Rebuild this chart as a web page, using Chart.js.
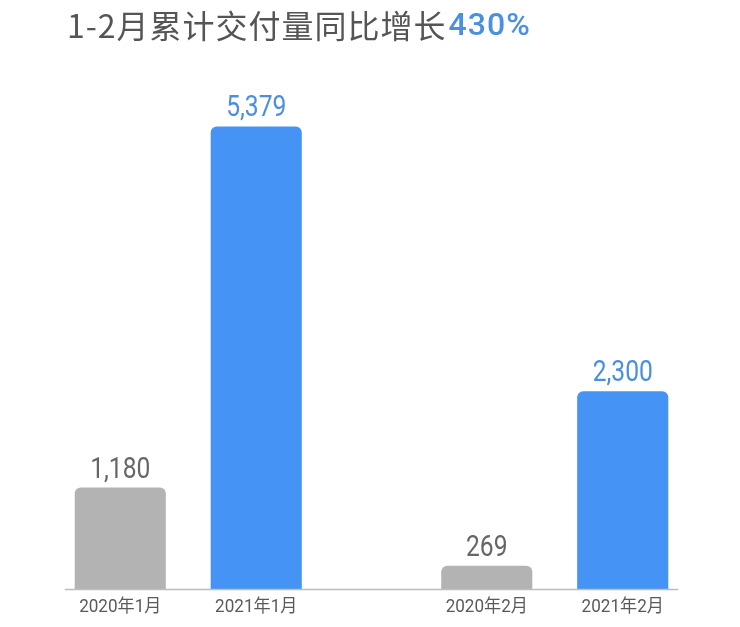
<!DOCTYPE html>
<html>
<head>
<meta charset="utf-8">
<script src="https://cdn.jsdelivr.net/npm/chart.js@4.4.0/dist/chart.umd.min.js"></script>
<style>
  html, body { margin: 0; padding: 0; background: #fff; }
  #wrap { width: 740px; height: 627px; position: relative; }
</style>
</head>
<body>
<div id="wrap"><canvas id="grafico"></canvas></div>
<script>
// Dados =====================================================================

const months = ["1月", "2月"];
const years = ["2020", "2021"];
const values2020 = [1180, 269];
const values2021 = [5379, 2300];

const grey = "#b3b3b3";
const blue = "#4594f5";

// texto um pouco condensado, como no original
function narrowText(ctx, text, x, y, sx) {
  ctx.save();
  ctx.translate(x, y);
  ctx.scale(sx, 1);
  ctx.fillText(text, 0, 0);
  ctx.restore();
}

// Plugin: título, rótulos e linha de base ====================================

const extras = {
  id: "extras",
  afterDatasetsDraw(chart) {
    const ctx = chart.ctx;
    ctx.save();

    // título em duas cores
    ctx.letterSpacing = "1px";
    ctx.font = '32px "Noto Sans CJK SC", sans-serif';
    ctx.textBaseline = "middle";
    ctx.textAlign = "left";
    const t1 = "1-2月累计交付量同比增长";
    ctx.fillStyle = "#555555";
    ctx.fillText(t1, 67, 26);
    const w = ctx.measureText(t1).width;
    ctx.font = '500 32px Roboto, sans-serif';
    ctx.fillStyle = "#4a90e0";
    ctx.fillText("430%", 67 + w + 2, 27);
    ctx.letterSpacing = "0px";

    // linha de base
    const first = chart.getDatasetMeta(0).data[0];
    const last = chart.getDatasetMeta(1).data[1];
    ctx.strokeStyle = "#bdbdbd";
    ctx.lineWidth = 1.5;
    ctx.beginPath();
    ctx.moveTo(first.x - first.width / 2 - 10, first.base + 0.5);
    ctx.lineTo(last.x + last.width / 2 + 10, last.base + 0.5);
    ctx.stroke();

    // valores e rótulos de cada barra
    chart.data.datasets.forEach((ds, i) => {
      chart.getDatasetMeta(i).data.forEach((bar, j) => {
        ctx.textAlign = "center";
        ctx.textBaseline = "alphabetic";
        ctx.font = '30px Roboto, sans-serif';
        ctx.fillStyle = i === 0 ? "#666666" : "#4a8ee0";
        narrowText(ctx, ds.data[j].toLocaleString("en-US"), bar.x, bar.y - 10, 0.82);

        ctx.textBaseline = "middle";
        ctx.font = '18px Roboto, "Noto Sans CJK SC", sans-serif';
        ctx.fillStyle = "#5a5a5a";
        narrowText(ctx, years[i] + "年" + months[j], bar.x, bar.base + 18, 0.95);
      });
    });

    ctx.restore();
  },
};

// Gráfico =====================================================================

const data = {
  labels: months,
  datasets: [
    {
      label: years[0],
      data: values2020,
      backgroundColor: grey,
      borderRadius: 6,
      categoryPercentage: 0.742,
      barPercentage: 0.67,
    },
    {
      label: years[1],
      data: values2021,
      backgroundColor: blue,
      borderRadius: 6,
      categoryPercentage: 0.742,
      barPercentage: 0.67,
    },
  ],
};

const config = {
  type: "bar",
  data: data,
  options: {
    responsive: true,
    maintainAspectRatio: false,
    animation: false,
    layout: { padding: { top: 73, bottom: 38, left: 5, right: 2 } },
    plugins: {
      legend: { display: false },
      tooltip: { enabled: false },
    },
    scales: {
      x: { display: false },
      y: { display: false, min: 0, max: 6000 },
    },
  },
  plugins: [extras],
};

const grafico = new Chart(document.getElementById("grafico"), config);
</script>
</body>
</html>
